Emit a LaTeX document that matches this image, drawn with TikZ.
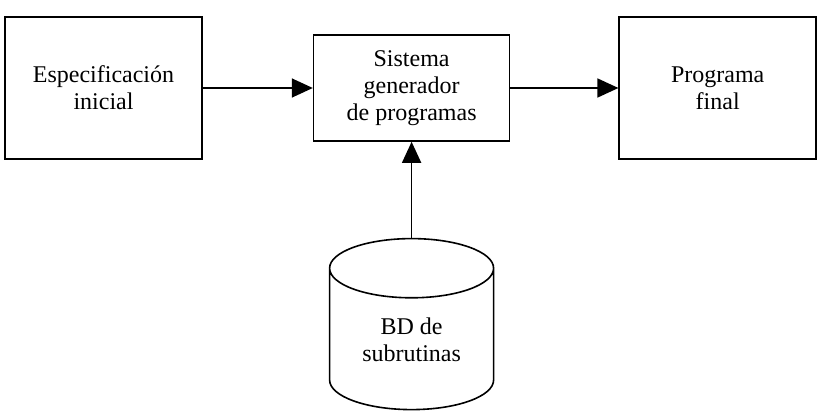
\documentclass[tikz,border=0pt]{standalone}
\usepackage{fontspec}
\setmainfont{Liberation Serif}
\usetikzlibrary{positioning,shapes.geometric,arrows.meta}
\tikzset{
  flujo/.style={x=1pt,y=1pt,line width=1.6pt,font=\fontsize{24}{27}\selectfont},
  caja/.style={draw,align=center,inner sep=0pt,minimum width=197pt},
  basedatos/.style={draw,cylinder,shape border rotate=90,aspect=0.6,align=center,
    inner sep=0pt,minimum width=164pt,minimum height=171pt},
  flecha/.style={-{Triangle[length=21pt,width=19pt]}}
}

\begin{document}
\begin{tikzpicture}[flujo]
  \useasboundingbox (0,0) rectangle (819,413);
  \node[caja,minimum height=142pt] (espec) at (103.5,325) {Especificación\\inicial};
  \node[caja,minimum width=196pt,minimum height=106pt,right=110pt of espec] (gen) {Sistema\\generador\\de programas};
  \node[caja,minimum height=142pt,right=108pt of gen] (final) {Programa\\final};
  \node[basedatos,below=96pt of gen] (bd) {BD de\\subrutinas};
  \draw[flecha] (espec) -- (gen);
  \draw[flecha] (gen) -- (final);
  \draw[flecha] (bd.top) -- (gen);
\end{tikzpicture}
\end{document}
